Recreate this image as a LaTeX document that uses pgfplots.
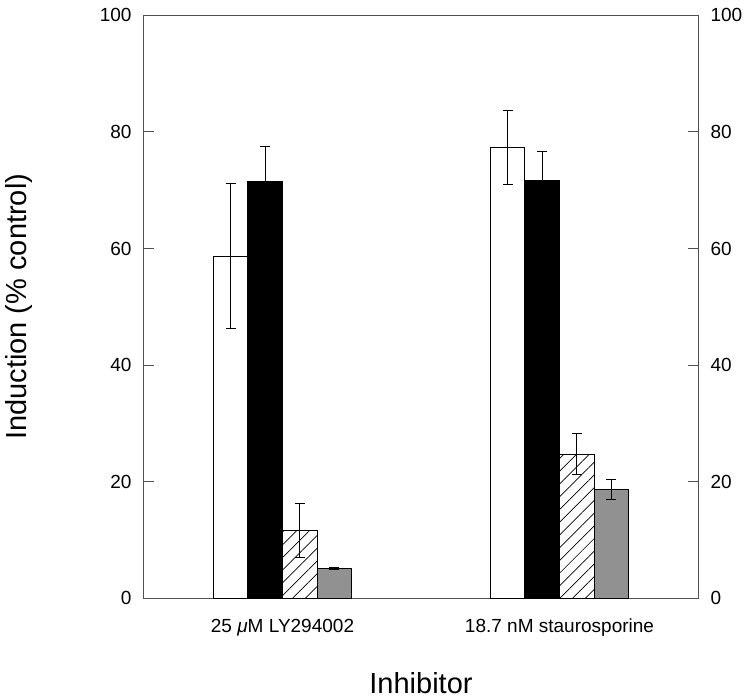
\documentclass[border=0pt]{standalone}
\usepackage{fontspec}
\setmainfont{Liberation Sans}
\usepackage{pgfplots}
\pgfplotsset{compat=1.18}
\usepackage{pgfplotstable}
\usetikzlibrary{patterns.meta}

\definecolor{axisgray}{RGB}{80,80,80}
\definecolor{barfill}{RGB}{145,145,145}

% x  value  err
\pgfplotstableread{
x y e
-0.1875 58.7 12.4
0.8125 77.3 6.3
}\whitebars
\pgfplotstableread{
x y e
-0.0625 71.4 6.1
0.9375 71.7 5.0
}\blackbars
\pgfplotstableread{
x y e
0.0625 11.6 4.6
1.0625 24.7 3.5
}\hatchbars
\pgfplotstableread{
x y e
0.1875 5.1 0.2
1.1875 18.6 1.7
}\graybars

\begin{document}
\begin{tikzpicture}
\pgfplotsset{
  common/.style={
    scale only axis, width=554pt, height=583pt,
    xmin=-0.5, xmax=1.5, ymin=0, ymax=100,
    ytick={0,20,...,100},
    tick align=inside, major tick length=10pt,
    ticklabel style={font=\fontsize{19}{22}\selectfont},
    /pgf/number format/assume math mode=true,
    axis line style={axisgray, line width=1pt},
    ytick style={axisgray, line width=1pt},
  }
}
\begin{axis}[common, name=main,
  ybar, bar shift=0pt, bar width=0.125,
  ytick pos=left,
  yticklabel shift=9pt,
  xtick={0,1},
  xticklabels={25 {\itshape μ}M\ LY294002, 18.7 nM staurosporine},
  xtick style={draw=none},
  xticklabel shift=7pt,
  xlabel={Inhibitor},
  ylabel={Induction (\% control)},
  label style={font=\fontsize{29}{34}\selectfont},
  xlabel style={at={(axis description cs:0.5,-0.146)}, anchor=center},
  ylabel style={at={(axis description cs:-0.225,0.5)}, anchor=center, rotate=0},
  error bars/error bar style={black, line width=1pt},
  error bars/error mark options={rotate=90, mark size=5pt, line width=1pt},
]
\addplot[draw=black, fill=white, line width=1.1pt,
  error bars/.cd, y dir=both, y explicit]
  table[x=x, y=y, y error=e] {\whitebars};
\addplot[draw=black, fill=black, line width=1.1pt,
  error bars/.cd, y dir=both, y explicit]
  table[x=x, y=y, y error=e] {\blackbars};
\addplot[draw=black, line width=1.1pt,
  pattern={Lines[angle=45, distance=9pt, line width=0.7pt]}, pattern color=black,
  error bars/.cd, y dir=both, y explicit]
  table[x=x, y=y, y error=e] {\hatchbars};
\addplot[draw=black, fill=barfill, line width=1.1pt,
  error bars/.cd, y dir=both, y explicit]
  table[x=x, y=y, y error=e] {\graybars};
\end{axis}
\begin{axis}[common,
  axis x line=none,
  axis y line*=right,
  yticklabel pos=right,
  yticklabel shift=9pt,
  ytick pos=right,
]
\addplot[draw=none] coordinates {(0,0)};
\end{axis}
\pgfresetboundingbox
\path (main.south west) ++(-144pt,-101.7pt) rectangle ++(751pt,700pt);
\end{tikzpicture}
\end{document}
